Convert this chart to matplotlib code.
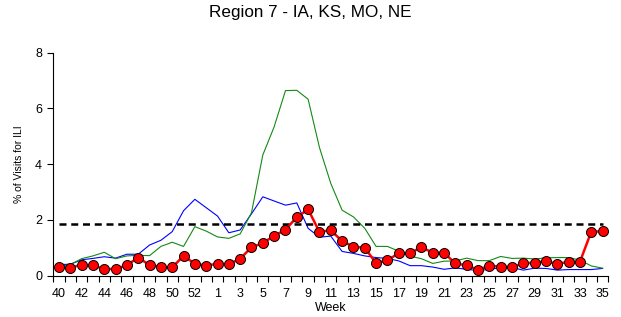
import matplotlib
matplotlib.use("Agg")
import matplotlib.pyplot as plt
import numpy as np

plt.rcParams['font.family'] = ['Liberation Sans', 'DejaVu Sans']

weeks = [40, 41, 42, 43, 44, 45, 46, 47, 48, 49, 50, 51, 52, 53] + list(range(1, 36))

current = [0.31, 0.29, 0.39, 0.37, 0.24, 0.24, 0.38, 0.65, 0.38, 0.31, 0.30, 0.71, 0.43, 0.36,
           0.43, 0.41, 0.61, 1.02, 1.17, 1.43, 1.65, 2.10, 2.38, 1.57, 1.63, 1.24, 1.04, 1.00,
           0.45, 0.56, 0.80, 0.80, 1.03, 0.82, 0.82, 0.44, 0.37, 0.21, 0.36, 0.32, 0.31, 0.44,
           0.47, 0.52, 0.42, 0.50, 0.50, 1.58, 1.59]

blue = [0.40, 0.41, 0.57, 0.62, 0.68, 0.63, 0.77, 0.77, 1.10, 1.27, 1.58, 2.33, 2.74, 2.44,
        2.14, 1.54, 1.64, 2.22, 2.83, 2.68, 2.53, 2.61, 1.70, 1.38, 1.42, 0.87, 0.80, 0.71,
        0.65, 0.62, 0.53, 0.36, 0.36, 0.31, 0.23, 0.28, 0.23, 0.18, 0.23, 0.29, 0.29, 0.20,
        0.27, 0.26, 0.20, 0.22, 0.22, 0.22, 0.26]

green = [0.33, 0.40, 0.61, 0.71, 0.84, 0.61, 0.71, 0.73, 0.72, 1.05, 1.20, 1.05, 1.76, 1.60,
         1.39, 1.34, 1.50, 2.26, 4.33, 5.34, 6.64, 6.65, 6.33, 4.60, 3.31, 2.35, 2.11, 1.70,
         1.05, 1.05, 0.88, 0.70, 0.61, 0.44, 0.52, 0.53, 0.63, 0.54, 0.54, 0.69, 0.62, 0.63,
         0.60, 0.64, 0.65, 0.65, 0.56, 0.35, 0.27]

baseline = 1.84

title = "Region 7 - IA, KS, MO, NE"
ylabel = "% of Visits for ILI"
xlabel = "Week"

x = np.arange(len(weeks))

fig = plt.figure(figsize=(6.21, 3.17), dpi=100)
ax = fig.add_axes([0.0858, 0.1303, 0.8937, 0.7035])

ax.plot(x, blue, color='#0000ff', lw=0.8, zorder=2)
ax.plot(x, green, color='#138a13', lw=0.8, zorder=2)
ax.plot([x[0], x[-1]], [baseline, baseline], color='black', lw=1.8,
        linestyle=(0, (2.8, 1.9)), zorder=3)
ax.plot(x, current, color='#ff0000', lw=1.8, marker='o', markersize=7.2,
        markerfacecolor='#ff0000', markeredgecolor='black', markeredgewidth=0.7, zorder=4)

ax.set_xlim(-0.5, len(weeks) - 0.5)
ax.set_ylim(0, 8)
ax.set_yticks([0, 2, 4, 6, 8])
ax.tick_params(axis='y', direction='out', length=4, width=0.8, labelsize=9, pad=4)

ax.set_xticks(x[::2])
ax.set_xticklabels([str(w) for w in weeks[::2]])
ax.set_xticks(np.arange(-0.5, len(weeks), 1.0), minor=True)
ax.tick_params(axis='x', which='major', length=0, labelsize=9, pad=9)
ax.tick_params(axis='x', which='minor', direction='out', length=4, width=0.8)

for s in ['top', 'right']:
    ax.spines[s].set_visible(False)
for s in ['left', 'bottom']:
    ax.spines[s].set_linewidth(0.8)

ax.set_xlabel(xlabel, fontsize=9, labelpad=1)
ax.set_ylabel(ylabel, fontsize=7.5, labelpad=8)
fig.text(0.5, 0.961, title, ha='center', va='center', fontsize=12.3)

fig.savefig("out.png", dpi=100)
